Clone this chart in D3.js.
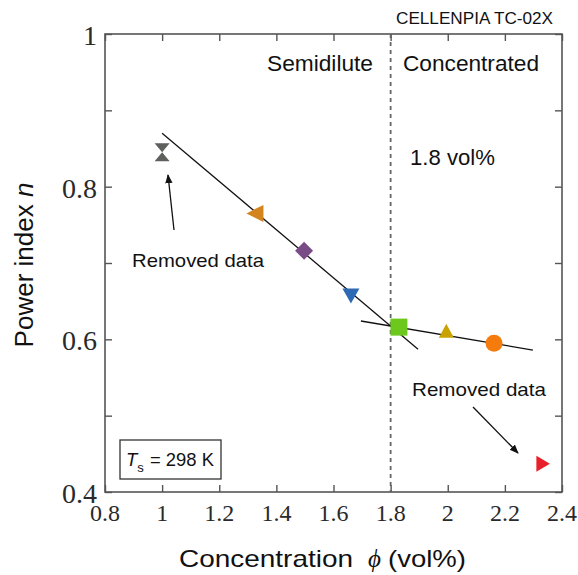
<!DOCTYPE html>
<html><head><meta charset="utf-8">
<script src="https://cdn.jsdelivr.net/npm/d3@7"></script>
<style>body{margin:0;background:#fff}svg{display:block}</style>
</head><body>
<svg id="c" width="578" height="575"></svg>
<script>
const conc   = [1.0, 1.325, 1.497, 1.661, 1.829, 1.995, 2.162, 2.333];
const nIndex = [0.845, 0.765, 0.716, 0.658, 0.616, 0.610, 0.595, 0.437];
const shapes = ["hourglass","triLeft","diamond","triDown","square","triUp","circle","triRight"];
const colors = ["#5c615c","#d4841c","#7a4c87","#2e6ab3","#6cc81c","#c9a204","#f57b0c","#e8202a"];
const fit1X = [1.0, 1.896], fit1Y = [0.870, 0.587];
const fit2X = [1.696, 2.298], fit2Y = [0.624, 0.586];
const xTicks = [0.8,1,1.2,1.4,1.6,1.8,2,2.2,2.4];
const yTicks = [0.4,0.6,0.8,1];
const yMinor = [0.5,0.7,0.9];

const svg = d3.select("#c");
const L=105, R=562, T=34, B=492;
const x = d3.scaleLinear().domain([0.8,2.4]).range([L,R]);
const y = d3.scaleLinear().domain([0.4,1.0]).range([B,T]);
const axisColor="#555";

svg.append("rect").attr("x",L).attr("y",T).attr("width",R-L).attr("height",B-T)
  .attr("fill","none").attr("stroke",axisColor).attr("stroke-width",1.6);

const tk = 7;
function styleAxis(g){g.select(".domain").remove();g.selectAll("line").attr("stroke",axisColor).attr("stroke-width",1.4);}
svg.append("g").attr("transform",`translate(0,${B})`)
  .call(d3.axisTop(x).tickValues(xTicks).tickSize(tk).tickFormat("")).call(styleAxis);
svg.append("g").attr("transform",`translate(0,${T})`)
  .call(d3.axisBottom(x).tickValues(xTicks).tickSize(tk).tickFormat("")).call(styleAxis);
const yAll = yTicks.concat(yMinor);
svg.append("g").attr("transform",`translate(${L},0)`)
  .call(d3.axisRight(y).tickValues(yAll).tickSize(tk).tickFormat("")).call(styleAxis);
svg.append("g").attr("transform",`translate(${R},0)`)
  .call(d3.axisLeft(y).tickValues(yAll).tickSize(tk).tickFormat("")).call(styleAxis);

const serif = "'Liberation Serif','Times New Roman',serif";
const sans = "'Liberation Sans',Arial,sans-serif";
svg.append("g").selectAll("text").data(xTicks).join("text")
  .attr("x",d=>x(d)).attr("y",B+29).attr("text-anchor","middle")
  .attr("font-family",serif).attr("font-size",24).attr("fill","#2a2a2a")
  .text(d=>d3.format("")(d));
svg.append("g").selectAll("text").data(yTicks).join("text")
  .attr("x",L-8).attr("y",d=>y(d)+11).attr("text-anchor","end")
  .attr("font-family",serif).attr("font-size",28).attr("fill","#2a2a2a")
  .text(d=>d3.format("")(d));

// axis titles
const xt = svg.append("text").attr("x",179).attr("y",567)
  .attr("font-family",sans).attr("font-size",24).attr("fill","#111");
xt.append("tspan").attr("textLength",174).attr("lengthAdjust","spacingAndGlyphs").text("Concentration");
xt.append("tspan").attr("x",368).attr("font-family",serif).attr("font-style","italic").attr("font-size",25).text("ϕ");
xt.append("tspan").attr("x",388).attr("textLength",78).attr("lengthAdjust","spacingAndGlyphs").text("(vol%)");
const yt = svg.append("text").attr("transform","translate(33,265) rotate(-90)").attr("text-anchor","middle")
  .attr("font-family",sans).attr("font-size",26).attr("fill","#111");
yt.append("tspan").text("Power index  ");
yt.append("tspan").attr("font-style","italic").text("n");

// dashed vertical line
svg.append("line").attr("x1",x(1.8)).attr("x2",x(1.8)).attr("y1",T).attr("y2",B)
  .attr("stroke","#666").attr("stroke-width",1.8).attr("stroke-dasharray","4,4");

// fit lines
const line = d3.line().x(d=>x(d[0])).y(d=>y(d[1]));
svg.append("path").attr("d",line(d3.zip(fit1X,fit1Y))).attr("stroke","#111").attr("stroke-width",1.3).attr("fill","none");
svg.append("path").attr("d",line(d3.zip(fit2X,fit2Y))).attr("stroke","#111").attr("stroke-width",1.3).attr("fill","none");

// markers
function markerPath(s){
  switch(s){
    case "hourglass": return "M-7.5,-9L7.5,-9L0,0L7.5,9L-7.5,9L0,0Z";
    case "triLeft": return "M-8.5,0L8.5,-8.5L8.5,8.5Z";
    case "triRight": return "M7,0L-6.5,-8L-6.5,8Z";
    case "triDown": return "M-8.5,-6.5L8.5,-6.5L0,8.5Z";
    case "triUp": return "M-7.5,6L7.5,6L0,-8Z";
    case "diamond": return "M0,-9L9,0L0,9L-9,0Z";
    case "square": return "M-8.5,-8.5L8.5,-8.5L8.5,8.5L-8.5,8.5Z";
    case "circle": return d3.symbol(d3.symbolCircle, 227)();
  }
}
svg.append("g").selectAll("path").data(conc.map((c,i)=>({c,n:nIndex[i],s:shapes[i],col:colors[i]})))
  .join("path").attr("transform",d=>`translate(${x(d.c)},${y(d.n)})`)
  .attr("d",d=>markerPath(d.s)).attr("fill",d=>d.col);

// arrows
svg.append("defs").append("marker").attr("id","ah").attr("viewBox","0 0 10 10")
  .attr("refX",9).attr("refY",5).attr("markerWidth",7).attr("markerHeight",7).attr("orient","auto")
  .append("path").attr("d","M0,1L10,5L0,9Z").attr("fill","#111");
svg.append("line").attr("x1",174).attr("y1",230).attr("x2",168).attr("y2",175)
  .attr("stroke","#111").attr("stroke-width",1.3).attr("marker-end","url(#ah)");
svg.append("line").attr("x1",473).attr("y1",407).attr("x2",518).attr("y2",453)
  .attr("stroke","#111").attr("stroke-width",1.3).attr("marker-end","url(#ah)");

// annotations
function txt(xp,yp,s,size,len){return svg.append("text").attr("x",xp).attr("y",yp).attr("font-family",sans)
  .attr("font-size",size).attr("fill","#111").attr("textLength",len).attr("lengthAdjust","spacingAndGlyphs").text(s);}
txt(132,267,"Removed data",18.5,132);
txt(412,396,"Removed data",19,134);
txt(267,71,"Semidilute",22,106);
txt(403,71,"Concentrated",22,136);
txt(410,165,"1.8 vol%",22,85);
txt(396,24,"CELLENPIA TC-02X",16.5,157);

// Ts box
svg.append("rect").attr("x",120).attr("y",440).attr("width",101).attr("height",39)
  .attr("fill","#fff").attr("stroke","#333").attr("stroke-width",1.3);
const ts = svg.append("text").attr("x",126).attr("y",466).attr("font-family",sans).attr("font-size",18.5).attr("fill","#111");
ts.append("tspan").attr("font-style","italic").text("T");
ts.append("tspan").attr("font-size",13).attr("dy",6).text("s");
ts.append("tspan").attr("dy",-6).attr("x",150).attr("textLength",64).attr("lengthAdjust","spacingAndGlyphs").text("= 298 K");
</script>
</body></html>
